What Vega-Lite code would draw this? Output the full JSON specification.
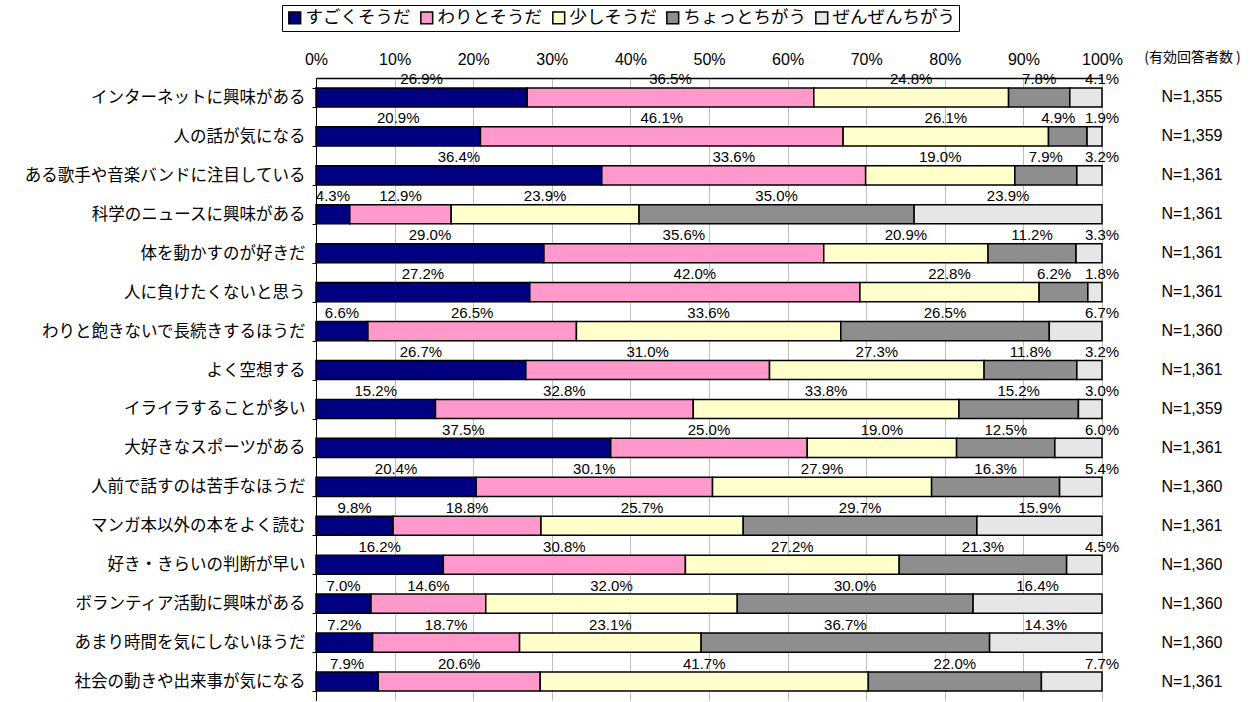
{
  "$schema": "https://vega.github.io/schema/vega-lite/v6.json",
  "autosize": {"type": "none"},
  "width": 786,
  "height": 623,
  "padding": {"left": 316, "top": 78, "right": 158, "bottom": 0},
  "background": "white",
  "config": {
    "view": {"stroke": null},
    "text": {"font": "Liberation Sans, Arial, sans-serif"}
  },
  "data": {
    "values": [
      {"item": "インターネットに興味がある", "N": "N=1,355", "すごくそうだ": 26.9, "わりとそうだ": 36.5, "少しそうだ": 24.8, "ちょっとちがう": 7.8, "ぜんぜんちがう": 4.1},
      {"item": "人の話が気になる", "N": "N=1,359", "すごくそうだ": 20.9, "わりとそうだ": 46.1, "少しそうだ": 26.1, "ちょっとちがう": 4.9, "ぜんぜんちがう": 1.9},
      {"item": "ある歌手や音楽バンドに注目している", "N": "N=1,361", "すごくそうだ": 36.4, "わりとそうだ": 33.6, "少しそうだ": 19.0, "ちょっとちがう": 7.9, "ぜんぜんちがう": 3.2},
      {"item": "科学のニュースに興味がある", "N": "N=1,361", "すごくそうだ": 4.3, "わりとそうだ": 12.9, "少しそうだ": 23.9, "ちょっとちがう": 35.0, "ぜんぜんちがう": 23.9},
      {"item": "体を動かすのが好きだ", "N": "N=1,361", "すごくそうだ": 29.0, "わりとそうだ": 35.6, "少しそうだ": 20.9, "ちょっとちがう": 11.2, "ぜんぜんちがう": 3.3},
      {"item": "人に負けたくないと思う", "N": "N=1,361", "すごくそうだ": 27.2, "わりとそうだ": 42.0, "少しそうだ": 22.8, "ちょっとちがう": 6.2, "ぜんぜんちがう": 1.8},
      {"item": "わりと飽きないで長続きするほうだ", "N": "N=1,360", "すごくそうだ": 6.6, "わりとそうだ": 26.5, "少しそうだ": 33.6, "ちょっとちがう": 26.5, "ぜんぜんちがう": 6.7},
      {"item": "よく空想する", "N": "N=1,361", "すごくそうだ": 26.7, "わりとそうだ": 31.0, "少しそうだ": 27.3, "ちょっとちがう": 11.8, "ぜんぜんちがう": 3.2},
      {"item": "イライラすることが多い", "N": "N=1,359", "すごくそうだ": 15.2, "わりとそうだ": 32.8, "少しそうだ": 33.8, "ちょっとちがう": 15.2, "ぜんぜんちがう": 3.0},
      {"item": "大好きなスポーツがある", "N": "N=1,361", "すごくそうだ": 37.5, "わりとそうだ": 25.0, "少しそうだ": 19.0, "ちょっとちがう": 12.5, "ぜんぜんちがう": 6.0},
      {"item": "人前で話すのは苦手なほうだ", "N": "N=1,360", "すごくそうだ": 20.4, "わりとそうだ": 30.1, "少しそうだ": 27.9, "ちょっとちがう": 16.3, "ぜんぜんちがう": 5.4},
      {"item": "マンガ本以外の本をよく読む", "N": "N=1,361", "すごくそうだ": 9.8, "わりとそうだ": 18.8, "少しそうだ": 25.7, "ちょっとちがう": 29.7, "ぜんぜんちがう": 15.9},
      {"item": "好き・きらいの判断が早い", "N": "N=1,360", "すごくそうだ": 16.2, "わりとそうだ": 30.8, "少しそうだ": 27.2, "ちょっとちがう": 21.3, "ぜんぜんちがう": 4.5},
      {"item": "ボランティア活動に興味がある", "N": "N=1,360", "すごくそうだ": 7.0, "わりとそうだ": 14.6, "少しそうだ": 32.0, "ちょっとちがう": 30.0, "ぜんぜんちがう": 16.4},
      {"item": "あまり時間を気にしないほうだ", "N": "N=1,360", "すごくそうだ": 7.2, "わりとそうだ": 18.7, "少しそうだ": 23.1, "ちょっとちがう": 36.7, "ぜんぜんちがう": 14.3},
      {"item": "社会の動きや出来事が気になる", "N": "N=1,361", "すごくそうだ": 7.9, "わりとそうだ": 20.6, "少しそうだ": 41.7, "ちょっとちがう": 22.0, "ぜんぜんちがう": 7.7}
    ]
  },
  "encoding": {
    "y": {
      "field": "item",
      "type": "nominal",
      "sort": null,
      "scale": {"paddingInner": 0.51, "paddingOuter": 0.255},
      "axis": {
        "title": null,
        "domainColor": "black",
        "domainWidth": 1,
        "tickBand": "extent",
        "tickColor": "black",
        "tickSize": 4,
        "labelPadding": 7,
        "labelFont": "Noto Sans CJK JP",
        "labelFontSize": 16.5,
        "labelColor": "black",
        "labelLimit": 400,
        "grid": false
      }
    }
  },
  "layer": [
    {
      "transform": [
        {"fold": ["すごくそうだ", "わりとそうだ", "少しそうだ", "ちょっとちがう", "ぜんぜんちがう"], "as": ["answer", "value"]},
        {"calculate": "indexof(['すごくそうだ','わりとそうだ','少しそうだ','ちょっとちがう','ぜんぜんちがう'], datum.answer)", "as": "k"},
        {"stack": "value", "groupby": ["item"], "sort": [{"field": "k", "order": "ascending"}], "offset": "normalize", "as": ["x0", "x1"]},
        {"calculate": "datum.k == 4 && datum.value < 10 ? 1 : (datum.k == 3 && datum.value < 7 ? (datum.x0 + datum.x1) / 2 - 0.012 : (datum.x0 + datum.x1) / 2)", "as": "mid"},
        {"calculate": "format(datum.value, '.1f') + '%'", "as": "label"}
      ],
      "layer": [
        {
          "mark": {"type": "bar", "stroke": "black", "strokeWidth": 1.5},
          "encoding": {
            "x": {
              "field": "x0",
              "type": "quantitative",
              "scale": {"domain": [0, 1], "nice": false, "zero": true},
              "axis": {
                "orient": "top",
                "title": "(有効回答者数 )",
                "titleFont": "Noto Sans CJK JP",
                "titleFontSize": 14,
                "titleFontWeight": "normal",
                "titleColor": "black",
                "titleX": 876,
                "titleY": -21,
                "titleAlign": "center",
                "titleBaseline": "middle",
                "titleAnchor": null,
                "values": [0, 0.1, 0.2, 0.3, 0.4, 0.5, 0.6, 0.7, 0.8, 0.9, 1],
                "format": ".0%",
                "labelFont": "Liberation Sans, Arial, sans-serif",
                "labelFontSize": 16,
                "labelColor": "black",
                "labelPadding": 11,
                "labelOverlap": false,
                "labelFlush": false,
                "labelBound": false,
                "ticks": false,
                "domainColor": "black",
                "domainWidth": 1.5,
                "grid": true,
                "gridWidth": 1,
                "gridColor": "#BEBEBE"
              }
            },
            "x2": {"field": "x1"},
            "color": {
              "field": "answer",
              "type": "nominal",
              "scale": {
                "domain": ["すごくそうだ", "わりとそうだ", "少しそうだ", "ちょっとちがう", "ぜんぜんちがう"],
                "range": ["#000080", "#FF99CC", "#FFFFCC", "#8E8E8E", "#E6E6E6"]
              },
              "legend": {
                "orient": "none",
                "legendX": -34,
                "legendY": -73,
                "title": null,
                "direction": "horizontal",
                "columns": 5,
                "strokeColor": "black",
                "padding": 4,
                "symbolType": "square",
                "symbolSize": 140,
                "symbolStrokeColor": "black",
                "symbolStrokeWidth": 1.5,
                "labelFont": "Noto Sans CJK JP",
                "labelFontSize": 17.5,
                "labelColor": "black",
                "labelOffset": 2,
                "columnPadding": 6,
                "labelLimit": 300
              }
            }
          }
        },
        {
          "mark": {"type": "text", "baseline": "bottom", "dy": -10, "fontSize": 15, "color": "black"},
          "encoding": {
            "x": {"field": "mid", "type": "quantitative"},
            "text": {"field": "label"}
          }
        }
      ]
    },
    {
      "mark": {"type": "text", "fontSize": 16, "color": "black", "align": "center", "baseline": "middle"},
      "encoding": {
        "x": {"datum": 1.1145, "type": "quantitative"},
        "text": {"field": "N"}
      }
    }
  ]
}
